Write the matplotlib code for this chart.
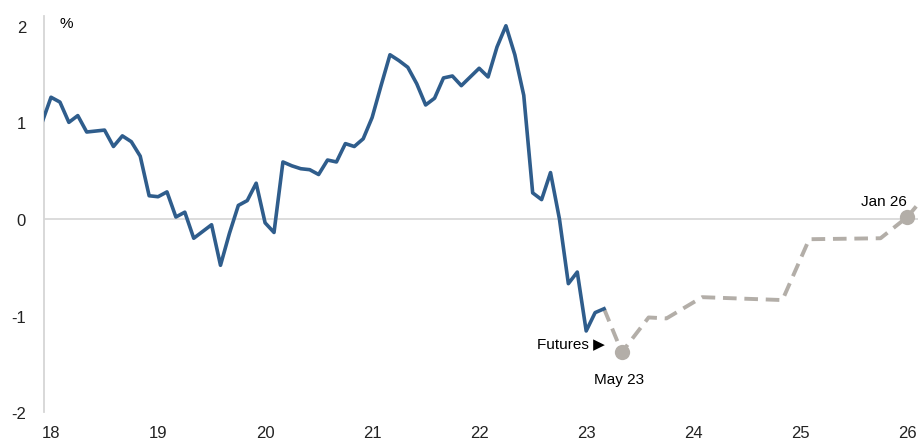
import numpy as np
import matplotlib.pyplot as plt

# monthly history, starting Dec 2017
hist_start = (2017, 12)
hist_vals = [1.00, 1.26, 1.21, 1.00, 1.07, 0.90, 0.91, 0.92, 0.75, 0.86, 0.80, 0.65, 0.24,
             0.23, 0.28, 0.02, 0.07, -0.20, -0.13, -0.06, -0.48, -0.15, 0.14, 0.19, 0.37,
             -0.04, -0.14, 0.59, 0.55, 0.52, 0.51, 0.46, 0.61, 0.59, 0.78, 0.75, 0.83,
             1.05, 1.38, 1.70, 1.64, 1.57, 1.40, 1.18, 1.25, 1.46, 1.48, 1.38, 1.47,
             1.56, 1.47, 1.78, 2.00, 1.70, 1.28, 0.27, 0.20, 0.48, 0.00, -0.67, -0.55,
             -1.16, -0.97, -0.93]

# futures path (year, month, value)
fut_months = [(2023, 3), (2023, 5), (2023, 8), (2023, 10), (2024, 2), (2024, 11),
              (2025, 2), (2025, 10), (2026, 1), (2026, 2)]
fut_vals = [-0.93, -1.38, -1.02, -1.03, -0.81, -0.84, -0.21, -0.20, 0.02, 0.13]

year_ticks = [2018, 2019, 2020, 2021, 2022, 2023, 2024, 2025, 2026]
year_labels = ['18', '19', '20', '21', '22', '23', '24', '25', '26']
y_ticks = [-2, -1, 0, 1, 2]


def to_t(y, m):
    return y + (m - 1) / 12.0


t0 = to_t(*hist_start)
hist_t = t0 + np.arange(len(hist_vals)) / 12.0
fut_t = np.array([to_t(y, m) for y, m in fut_months])

plt.rcParams['font.family'] = ['Liberation Sans', 'DejaVu Sans']
plt.rcParams['axes.unicode_minus'] = False

fig = plt.figure(figsize=(9.18, 4.39), dpi=100)
ax = fig.add_axes([0.048, 0.059, 0.952, 0.902])

blue = '#2f5d8c'
grey = '#b3aea8'

ax.axhline(0, color='#d9d9d9', lw=1.3, zorder=1)
ax.plot(hist_t, hist_vals, color=blue, lw=2.6, zorder=3)
ax.plot(fut_t, fut_vals, color=grey, lw=2.8, ls=(0, (3.5, 2.0)), zorder=2)

# highlighted points
i_may = fut_months.index((2023, 5))
i_jan = fut_months.index((2026, 1))
ax.plot([fut_t[i_may], fut_t[i_jan]], [fut_vals[i_may], fut_vals[i_jan]], 'o',
        color=grey, ms=11, zorder=4, markeredgewidth=0)

ax.text(fut_t[0] + 0.01, -1.29, 'Futures \u25b6', ha='right', va='center', fontsize=11)
ax.text(fut_t[i_may] - 0.03, -1.66, 'May 23', ha='center', va='center', fontsize=11)
ax.text(fut_t[i_jan], 0.19, 'Jan 26', ha='right', va='center', fontsize=11)
ax.text(2018.14, 2.03, '%', ha='center', va='center', fontsize=11)

ax.set_xlim(2017.935, 2026.1)
ax.set_ylim(-2, 2.1)
ax.set_xticks(year_ticks)
ax.set_xticklabels(year_labels)
ax.set_yticks(y_ticks)
ax.tick_params(axis='both', length=0, labelsize=12, colors='#222222')
ax.tick_params(axis='x', pad=9)
ax.tick_params(axis='y', pad=13)

for s in ['top', 'right', 'bottom']:
    ax.spines[s].set_visible(False)
ax.spines['left'].set_color('#d6d6d6')
ax.spines['left'].set_linewidth(1.3)

fig.savefig('out.png', dpi=100)
